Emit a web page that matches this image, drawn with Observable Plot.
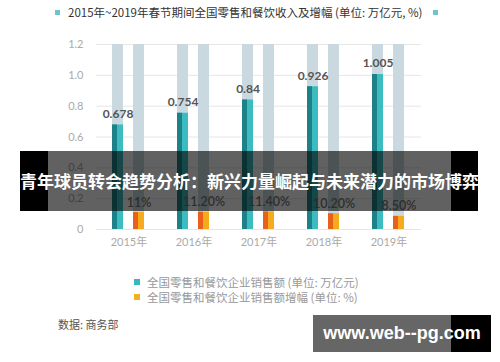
<!DOCTYPE html>
<html><head><meta charset="utf-8">
<script src="https://cdn.jsdelivr.net/npm/d3@7"></script>
<script src="https://cdn.jsdelivr.net/npm/@observablehq/plot@0.6"></script>
<style>
body{margin:0;background:#fff;}
#wrap{position:relative;width:500px;height:362px;overflow:hidden;background:#fff;font-family:"Noto Sans CJK SC",sans-serif;}
#chart{position:absolute;left:0;top:0;}
.sq{position:absolute;width:5px;height:5px;background:#6cc5c8;}
#title{position:absolute;left:68px;top:3px;font-size:11.5px;color:#333;white-space:nowrap;line-height:18px;}
.leg{position:absolute;left:147px;font-size:11.5px;color:#999;white-space:nowrap;line-height:14px;}
.lsq{position:absolute;left:134px;width:6px;height:6px;}
#source{position:absolute;left:58px;top:316px;font-size:11px;color:#555;line-height:16px;white-space:nowrap;}
#banner{position:absolute;left:20px;top:151px;width:458px;height:60px;}
#banner .p{position:absolute;top:0;height:60px;}
#banner .t{position:absolute;left:0;top:0;width:458px;height:60px;line-height:60px;text-align:center;color:#fff;font-size:17px;font-weight:bold;white-space:nowrap;}
#wm{position:absolute;left:313px;top:315px;width:178px;height:37px;}
#wm .p{position:absolute;top:0;height:37px;}
#wm .t{position:absolute;left:0;top:0;width:178px;height:37px;line-height:37px;text-align:center;color:#fff;font-family:"Liberation Sans",Arial,sans-serif;font-size:18px;font-weight:bold;white-space:nowrap;}
</style></head><body>
<div id="wrap">
  <div id="chart"></div>
  <div class="sq" style="left:55px;top:10px"></div>
  <div id="title"></div>
  <div class="sq" style="left:433px;top:10px"></div>
  <div class="lsq" style="top:279px;background:#3ab7be"></div>
  <div class="leg" id="leg1" style="top:275px"></div>
  <div class="lsq" style="top:294px;background:#f5b021"></div>
  <div class="leg" id="leg2" style="top:290px"></div>
  <div id="source"></div>
  <div id="banner">
    <div class="p" style="left:0;width:28px;background:#000"></div>
    <div class="p" style="left:28px;width:403px;background:rgba(0,0,0,0.62)"></div>
    <div class="p" style="left:431px;width:27px;background:#000"></div>
    <div class="t" id="bannerText"></div>
  </div>
  <div id="wm">
    <div class="p" style="left:0;width:138px;background:#666"></div>
    <div class="p" style="left:138px;width:40px;background:#000"></div>
    <div class="t" id="wmText"></div>
  </div>
</div>
<script>
// ---- data ----
const years = ["2015", "2016", "2017", "2018", "2019"];
const sales = [0.678, 0.754, 0.84, 0.926, 1.005];          // 万亿元
const growth = [11, 11.2, 11.4, 10.2, 8.5];                // %
const growthLabels = ["11%", "11.20%", "11.40%", "10.20%", "8.50%"];
const yTicks = [0, 0.2, 0.4, 0.6, 0.8, 1.0, 1.2];
const backgroundMax = 1.2;
const titleText = "2015年~2019年春节期间全国零售和餐饮收入及增幅 (单位: 万亿元, %)";
const legendLabels = ["全国零售和餐饮企业销售额 (单位: 万亿元)", "全国零售和餐饮企业销售额增幅 (单位: %)"];
const sourceText = "数据: 商务部";
const bannerText = "青年球员转会趋势分析：新兴力量崛起与未来潜力的市场博弈";
const watermarkText = "www.web--pg.com";

document.getElementById("title").textContent = titleText;
document.getElementById("leg1").textContent = legendLabels[0];
document.getElementById("leg2").textContent = legendLabels[1];
document.getElementById("source").textContent = sourceText;
document.getElementById("bannerText").textContent = bannerText;
document.getElementById("wmText").textContent = watermarkText;

const cols = years.flatMap((yr, i) => [
  {year: yr, series: "sales", value: sales[i], label: String(sales[i]), bg: backgroundMax},
  {year: yr, series: "growth", value: growth[i] / 100, label: growthLabels[i], bg: backgroundMax}
]);
const isSales = d => d.series === "sales";
const isGrowth = d => d.series === "growth";

const chart = Plot.plot({
  width: 500,
  height: 270,
  marginTop: 44,
  marginBottom: 41,
  marginLeft: 90,
  marginRight: 73.5,
  style: {fontFamily: "Lato, 'Noto Sans CJK SC', sans-serif", fontSize: "11px", color: "#aaa", background: "transparent", overflow: "visible"},
  fx: {domain: years, paddingInner: 0, paddingOuter: 0.064, axis: "bottom", tickSize: 0, tickPadding: 9, tickFormat: d => d + "年", label: null},
  x: {domain: ["sales", "growth"], paddingInner: 0.4545, paddingOuter: 0.718, axis: null},
  y: {domain: [0, 1.2], ticks: yTicks, tickFormat: d => d === 0 ? "0" : d.toFixed(1), tickSize: 0, tickPadding: 13, label: null},
  marks: [
    Plot.ruleY(yTicks, {stroke: "#e6e6e6"}),
    Plot.barY(cols, {fx: "year", x: "series", y: "bg", fill: "#c9d9df"}),
    Plot.barY(cols, {fx: "year", x: "series", y: "value", fill: "#3bbcc0", filter: isSales}),
    Plot.barY(cols, {fx: "year", x: "series", y: "value", fill: "#1e8187", insetRight: 6, filter: isSales}),
    Plot.barY(cols, {fx: "year", x: "series", y: "value", fill: "#f6ab1e", filter: isGrowth}),
    Plot.barY(cols, {fx: "year", x: "series", y: "value", fill: "#e9601a", insetRight: 6, filter: isGrowth}),
    Plot.text(cols, {fx: "year", x: "series", y: "value", text: "label", dy: -11, fill: "#555", fontSize: 12, fontWeight: "bold", filter: isSales}),
    Plot.text(cols, {fx: "year", x: "series", y: "value", text: "label", dy: -10, fill: "#777", fontSize: 12.5, fontWeight: 600, filter: isGrowth})
  ]
});
document.getElementById("chart").appendChild(chart);
</script>
</body></html>
